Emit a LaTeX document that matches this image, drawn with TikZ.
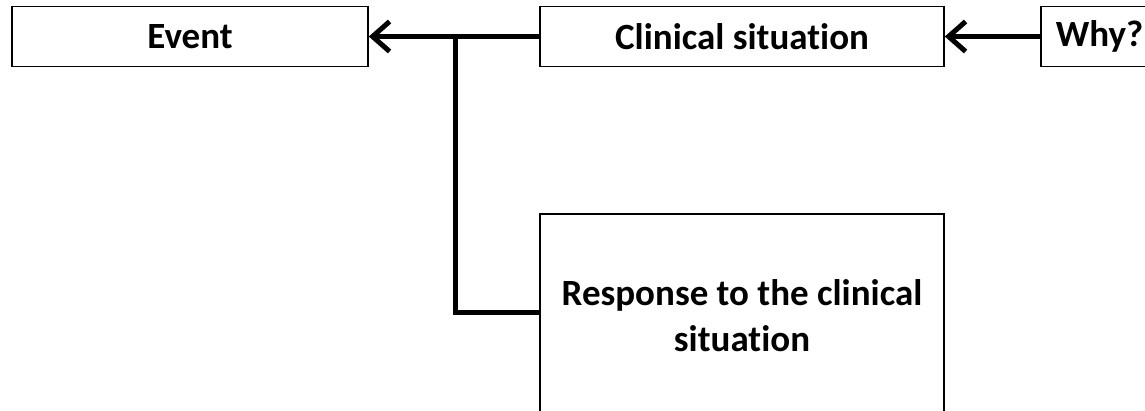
\documentclass[tikz,border=0pt]{standalone}
\usepackage{fontspec}
\setmainfont{Carlito}[Ligatures=NoCommon]
\usetikzlibrary{arrows.meta}
\begin{document}
\begin{tikzpicture}[x=1pt,y=-1pt,
  box/.style={draw=black, line width=1.6pt, inner sep=0pt, font=\bfseries\fontsize{37}{46}\selectfont},
  conn/.style={line width=5pt, draw=black},
  arr/.style={conn, -{Straight Barb[length=17pt,width=30pt,line width=5pt]}}]
\useasboundingbox (0,0) rectangle (1145,410);
\clip (0,0) rectangle (1145,410);
\node[box, minimum width=356pt, minimum height=60pt] (event) at (190,36.5) {Event};
\node[box, minimum width=404pt, minimum height=60pt] (clin) at (742,36.5) {Clinical situation};
\node[box, anchor=west, minimum height=60pt, text width=110pt, inner xsep=15pt, align=left] (why) at (1040,36.5) {Why?};
\node[box, minimum width=404pt, minimum height=210pt] (resp) at (742,319)
  {\raisebox{10pt}{\begin{tabular}{@{}c@{}}Response to the clinical\\situation\end{tabular}}};
\coordinate (j) at (455,37);
\draw[arr] (clin.west) -- (event.east);
\draw[arr] (why.west) -- (clin.east);
\draw[conn, line join=miter] (resp.west |- 0,312) -| (j);
\end{tikzpicture}
\end{document}
